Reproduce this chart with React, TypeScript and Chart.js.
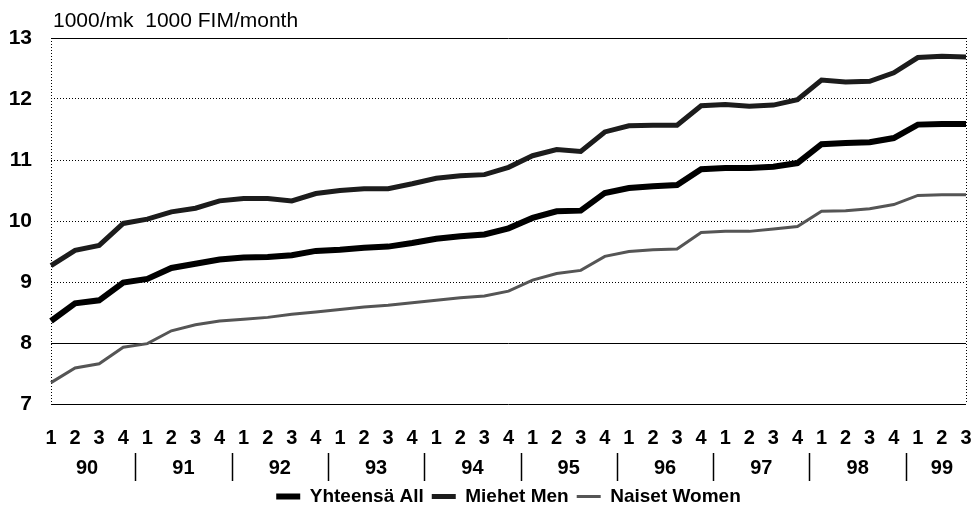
import { useEffect, useRef } from 'react';
import { Chart, registerables } from 'chart.js';

Chart.register(...registerables);

const quarterLabels = [
  '1', '2', '3', '4', '1', '2', '3', '4', '1', '2', '3', '4', '1', '2', '3', '4',
  '1', '2', '3', '4', '1', '2', '3', '4', '1', '2', '3', '4', '1', '2', '3', '4',
  '1', '2', '3', '4', '1', '2', '3',
];
const yearLabels = ['90', '91', '92', '93', '94', '95', '96', '97', '98', '99'];

const allValues = [
  8.36, 8.65, 8.7, 8.99, 9.05, 9.23, 9.3, 9.37, 9.4, 9.41, 9.44, 9.51,
  9.53, 9.56, 9.58, 9.64, 9.71, 9.75, 9.78, 9.88, 10.05, 10.16, 10.17, 10.46,
  10.54, 10.57, 10.59, 10.85, 10.87, 10.87, 10.89, 10.95, 11.26, 11.28, 11.29, 11.36,
  11.58, 11.59, 11.59,
];
const menValues = [
  9.27, 9.52, 9.6, 9.96, 10.03, 10.15, 10.21, 10.33, 10.37, 10.37, 10.33, 10.45,
  10.5, 10.53, 10.53, 10.61, 10.7, 10.74, 10.76, 10.88, 11.07, 11.17, 11.14, 11.46,
  11.56, 11.57, 11.57, 11.89, 11.91, 11.88, 11.9, 11.99, 12.31, 12.28, 12.29, 12.43,
  12.68, 12.7, 12.69,
];
const womenValues = [
  7.35, 7.59, 7.66, 7.93, 7.99, 8.2, 8.3, 8.36, 8.39, 8.42, 8.47, 8.51,
  8.55, 8.59, 8.62, 8.66, 8.7, 8.74, 8.77, 8.85, 9.03, 9.14, 9.19, 9.42,
  9.5, 9.53, 9.54, 9.81, 9.83, 9.83, 9.87, 9.91, 10.16, 10.17, 10.2, 10.27,
  10.42, 10.43, 10.43,
];

const seriesNames = ['Yhteensä All', 'Miehet Men', 'Naiset Women'];
const unitLabel = '1000/mk  1000 FIM/month';
const yMin = 7;
const yMax = 13;
const solidGridValues = [7, 8, 13];

const FONT = "'Liberation Sans', Arial, sans-serif";

const decorPlugin = {
  id: 'decor',
  beforeDatasetsDraw(chart: any) {
    const { ctx, chartArea: a, scales } = chart;
    const y = scales.y;
    ctx.save();
    ctx.strokeStyle = '#000';
    ctx.lineWidth = 1;
    solidGridValues.forEach((v) => {
      const py = Math.round(y.getPixelForValue(v)) + 0.5;
      ctx.beginPath();
      ctx.moveTo(a.left, py);
      ctx.lineTo(a.right, py);
      ctx.stroke();
    });
    ctx.setLineDash([1, 2]);
    [a.left, a.right].forEach((px: number) => {
      const x = Math.round(px) + 0.5;
      ctx.beginPath();
      ctx.moveTo(x, a.top);
      ctx.lineTo(x, a.bottom);
      ctx.stroke();
    });
    ctx.restore();
  },
  afterDraw(chart: any) {
    const { ctx, chartArea: a, scales } = chart;
    const x = scales.x;
    ctx.save();
    ctx.fillStyle = '#000';
    ctx.font = `21px ${FONT}`;
    ctx.textAlign = 'left';
    ctx.textBaseline = 'alphabetic';
    ctx.fillText(unitLabel, a.left + 2, a.top - 11);

    const groups: number[][] = [];
    quarterLabels.forEach((q, i) => {
      if (q === '1' || groups.length === 0) groups.push([]);
      groups[groups.length - 1].push(i);
    });
    ctx.font = `bold 20px ${FONT}`;
    ctx.textAlign = 'center';
    ctx.textBaseline = 'middle';
    ctx.strokeStyle = '#000';
    ctx.lineWidth = 1.5;
    groups.forEach((g, gi) => {
      const first = x.getPixelForValue(g[0]);
      const last = x.getPixelForValue(g[g.length - 1]);
      ctx.fillText(yearLabels[gi], (first + last) / 2, a.bottom + 64);
      if (gi < groups.length - 1) {
        const next = x.getPixelForValue(groups[gi + 1][0]);
        const sx = Math.round((last + next) / 2) + 0.5;
        ctx.beginPath();
        ctx.moveTo(sx, a.bottom + 49);
        ctx.lineTo(sx, a.bottom + 77);
        ctx.stroke();
      }
    });
    ctx.restore();
  },
};

export default function App() {
  const canvasRef = useRef<HTMLCanvasElement | null>(null);

  useEffect(() => {
    if (!canvasRef.current) return;
    const chart = new Chart(canvasRef.current, {
      type: 'line',
      data: {
        labels: quarterLabels,
        datasets: [
          {
            label: seriesNames[0],
            data: allValues,
            borderColor: '#000',
            backgroundColor: '#000',
            borderWidth: 6,
            pointRadius: 0,
            tension: 0,
          },
          {
            label: seriesNames[1],
            data: menValues,
            borderColor: '#1c1c1c',
            backgroundColor: '#1c1c1c',
            borderWidth: 5,
            pointRadius: 0,
            tension: 0,
          },
          {
            label: seriesNames[2],
            data: womenValues,
            borderColor: '#555',
            backgroundColor: '#555',
            borderWidth: 3,
            pointRadius: 0,
            tension: 0,
          },
        ],
      },
      options: {
        animation: false,
        responsive: true,
        maintainAspectRatio: false,
        layout: { padding: { top: 38, right: 10, left: 0, bottom: 1 } },
        scales: {
          x: {
            offset: false,
            grid: { display: false, drawTicks: false },
            border: { display: false },
            ticks: {
              autoSkip: false,
              maxRotation: 0,
              color: '#000',
              font: { family: FONT, size: 20, weight: 'bold' },
              padding: 22,
            },
            afterFit: (s: any) => {
              s.height = 75;
              s.paddingLeft = 0;
              s.paddingRight = 0;
            },
          },
          y: {
            min: yMin,
            max: yMax,
            grid: { color: '#000', lineWidth: 1, drawTicks: false },
            border: { display: false, dash: [1, 2] },
            ticks: {
              stepSize: 1,
              color: '#000',
              font: { family: FONT, size: 21, weight: 'bold' },
              padding: 19,
            },
            afterFit: (s: any) => {
              s.width = 51;
              s.paddingTop = 0;
              s.paddingBottom = 0;
            },
          },
        },
        plugins: {
          legend: {
            position: 'bottom',
            fullSize: false,
            labels: {
              usePointStyle: true,
              pointStyle: 'line',
              pointStyleWidth: 24,
              color: '#000',
              font: { family: FONT, size: 19, weight: 'bold' },
              padding: 8,
            },
          },
          tooltip: { enabled: false },
        },
      },
      plugins: [decorPlugin],
    } as any);
    return () => chart.destroy();
  }, []);

  return (
    <div style={{ position: 'absolute', left: 0, top: 0, width: 976, height: 517, background: '#fff' }}>
      <canvas ref={canvasRef} />
    </div>
  );
}
